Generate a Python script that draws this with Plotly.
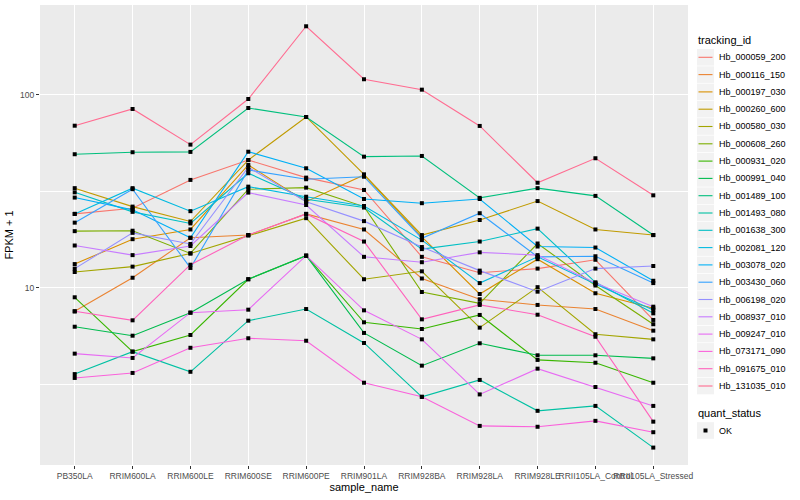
import plotly.graph_objects as go

samples = ["PB350LA", "RRIM600LA", "RRIM600LE", "RRIM600SE", "RRIM600PE", "RRIM901LA",
           "RRIM928BA", "RRIM928LA", "RRIM928LE", "RRII105LA_Control", "RRII105LA_Stressed"]

tracking_ids = ["Hb_000059_200", "Hb_000116_150", "Hb_000197_030", "Hb_000260_600", "Hb_000580_030",
                "Hb_000608_260", "Hb_000931_020", "Hb_000991_040", "Hb_001489_100", "Hb_001493_080",
                "Hb_001638_300", "Hb_002081_120", "Hb_003078_020", "Hb_003430_060", "Hb_006198_020",
                "Hb_008937_010", "Hb_009247_010", "Hb_073171_090", "Hb_091675_010", "Hb_131035_010"]

colors = ["#F8766D", "#EA8331", "#D89000", "#C09B00", "#A3A500", "#7CAE00", "#39B600", "#00BB4E",
          "#00BF7D", "#00C1A3", "#00BFC4", "#00BAE0", "#00B0F6", "#35A2FF", "#9590FF", "#C77CFF",
          "#E76BF3", "#FA62DB", "#FF62BC", "#FF6C91"]

# FPKM + 1 values, one list per gene, in sample order
Hb_000059_200 = [24.2, 25.9, 36.3, 46.0, 37.3, 32.2, 14.5, 12.0, 12.6, 14.0, 6.83]
Hb_000116_150 = [7.57, 11.3, 18.2, 18.8, 24.2, 20.1, 11.2, 8.74, 8.17, 7.78, 6.01]
Hb_000197_030 = [13.3, 17.9, 20.1, 43.4, 28.0, 38.5, 18.4, 9.31, 14.1, 9.39, 7.85]
Hb_000260_600 = [32.9, 26.4, 22.1, 46.0, 76.9, 38.8, 18.8, 22.5, 28.2, 20.1, 18.8]
Hb_000580_030 = [12.1, 12.9, 15.1, 18.7, 23.0, 11.1, 12.2, 6.23, 10.1, 5.76, 5.42]
Hb_000608_260 = [19.7, 19.8, 15.1, 32.5, 33.1, 26.4, 9.53, 8.33, 17.0, 10.3, 6.49]
Hb_000931_020 = [8.95, 4.68, 5.71, 11.1, 14.7, 6.64, 6.13, 7.25, 4.24, 4.10, 3.23]
Hb_000991_040 = [6.30, 5.66, 7.45, 11.1, 14.7, 5.85, 3.96, 5.17, 4.48, 4.48, 4.32]
Hb_001489_100 = [49.3, 50.5, 50.7, 85.6, 76.9, 47.9, 48.3, 29.3, 32.9, 30.0, 18.8]
Hb_001493_080 = [3.58, 4.68, 3.68, 6.77, 7.78, 5.19, 2.73, 3.34, 2.31, 2.45, 1.49]
Hb_001638_300 = [31.3, 24.8, 21.6, 39.3, 28.8, 26.1, 15.9, 17.4, 20.3, 10.7, 7.39]
Hb_002081_120 = [24.2, 32.9, 25.0, 33.5, 29.7, 26.6, 17.7, 10.6, 14.5, 10.5, 7.69]
Hb_003078_020 = [29.4, 25.4, 18.2, 50.8, 41.7, 28.9, 27.5, 28.9, 16.4, 16.2, 10.9]
Hb_003430_060 = [21.8, 32.5, 12.7, 40.9, 36.6, 37.7, 18.1, 24.4, 14.5, 14.6, 10.6]
Hb_006198_020 = [12.6, 19.3, 16.9, 42.2, 28.0, 22.2, 16.3, 12.3, 9.57, 12.6, 13.0]
Hb_008937_010 = [16.6, 14.8, 16.5, 31.2, 26.9, 14.5, 13.6, 15.3, 14.8, 10.6, 8.00]
Hb_009247_010 = [4.57, 4.34, 7.45, 7.72, 14.7, 7.66, 5.42, 2.81, 3.82, 3.07, 2.45]
Hb_073171_090 = [3.42, 3.63, 4.90, 5.49, 5.33, 3.23, 2.73, 1.93, 1.91, 2.05, 1.79]
Hb_091675_010 = [7.57, 6.80, 13.2, 18.8, 24.2, 17.4, 6.88, 8.17, 7.27, 5.59, 2.03]
Hb_131035_010 = [69.3, 84.6, 55.3, 95.3, 226.9, 120.6, 106.5, 69.1, 35.1, 47.0, 30.2]

series = [Hb_000059_200, Hb_000116_150, Hb_000197_030, Hb_000260_600, Hb_000580_030,
          Hb_000608_260, Hb_000931_020, Hb_000991_040, Hb_001489_100, Hb_001493_080,
          Hb_001638_300, Hb_002081_120, Hb_003078_020, Hb_003430_060, Hb_006198_020,
          Hb_008937_010, Hb_009247_010, Hb_073171_090, Hb_091675_010, Hb_131035_010]

quant_status = ["OK"]

FONT = "Liberation Sans"
W, H = 800, 500
ML, MR, MT, MB = 40, 112, 5, 35
PW, PH = W - ML - MR, H - MT - MB


def px(x):
    return (x - ML) / PW


def py(y):
    return (H - MB - y) / PH


fig = go.Figure()

for name, col, vals in zip(tracking_ids, colors, series):
    fig.add_trace(go.Scatter(
        x=samples, y=vals, mode="lines", name=name,
        line=dict(color=col, width=1.1), hoverinfo="skip"))

all_x = [s for vals in series for s in samples]
all_y = [v for vals in series for v in vals]
fig.add_trace(go.Scatter(
    x=all_x, y=all_y, mode="markers", name=quant_status[0],
    marker=dict(symbol="square", size=4, color="black"), hoverinfo="skip"))

# ---- manual ggplot-style legends ----
shapes = []
annotations = []
annotations.append(dict(text="tracking_id", x=px(696), y=py(40), xref="paper", yref="paper",
                        xanchor="left", yanchor="middle", showarrow=False,
                        font=dict(size=11, color="black", family=FONT)))
y0, step = 57.3, 17.3
for i, (name, col) in enumerate(zip(tracking_ids, colors)):
    yc = y0 + i * step
    shapes.append(dict(type="rect", xref="paper", yref="paper",
                       x0=px(697), x1=px(714), y0=py(yc - 8.3), y1=py(yc + 8.3),
                       fillcolor="#F2F2F2", line=dict(width=0), layer="above"))
    shapes.append(dict(type="line", xref="paper", yref="paper",
                       x0=px(698.5), x1=px(712.5), y0=py(yc), y1=py(yc),
                       line=dict(color=col, width=1.1), layer="above"))
    annotations.append(dict(text=name, x=px(717), y=py(yc), xref="paper", yref="paper",
                            xanchor="left", yanchor="middle", showarrow=False,
                            font=dict(size=9, color="black", family=FONT)))

annotations.append(dict(text="quant_status", x=px(696), y=py(413), xref="paper", yref="paper",
                        xanchor="left", yanchor="middle", showarrow=False,
                        font=dict(size=11, color="black", family=FONT)))
yq = 430.5
shapes.append(dict(type="rect", xref="paper", yref="paper",
                   x0=px(697), x1=px(714), y0=py(yq - 8.3), y1=py(yq + 8.3),
                   fillcolor="#F2F2F2", line=dict(width=0), layer="above"))
shapes.append(dict(type="rect", xref="paper", yref="paper",
                   x0=px(703.5), x1=px(707.5), y0=py(yq - 2), y1=py(yq + 2),
                   fillcolor="black", line=dict(width=0), layer="above"))
annotations.append(dict(text=quant_status[0], x=px(717), y=py(yq), xref="paper", yref="paper",
                        xanchor="left", yanchor="middle", showarrow=False,
                        font=dict(size=9, color="black", family=FONT)))

fig.update_layout(
    width=W, height=H,
    margin=dict(l=ML, r=MR, t=MT, b=MB, autoexpand=False),
    paper_bgcolor="white", plot_bgcolor="#EBEBEB",
    font=dict(family=FONT, size=9, color="#4D4D4D"),
    showlegend=False,
    shapes=shapes, annotations=annotations,
)

fig.update_xaxes(
    type="category", categoryorder="array", categoryarray=samples,
    range=[-0.6, len(samples) - 0.4],
    showgrid=True, gridcolor="white", gridwidth=1.3,
    zeroline=False, showline=False, automargin=False, tickangle=0,
    ticks="outside", ticklen=3, tickcolor="#333333", tickwidth=1,
    tickfont=dict(size=8.5, color="#4D4D4D", family=FONT),
    title=dict(text="sample_name", font=dict(size=11, color="black", family=FONT), standoff=3),
)

fig.update_yaxes(
    type="log", range=[0.083, 2.466],
    tickvals=[10, 100], ticktext=["10", "100"],
    showgrid=True, gridcolor="white", gridwidth=1.3,
    minor=dict(tickvals=[3.1623, 31.623], showgrid=True, gridcolor="white", gridwidth=0.6, ticks=""),
    zeroline=False, showline=False, automargin=False,
    ticks="outside", ticklen=3, tickcolor="#333333", tickwidth=1,
    tickfont=dict(size=8.5, color="#4D4D4D", family=FONT),
    title=dict(text="FPKM + 1", font=dict(size=11, color="black", family=FONT), standoff=4),
)

fig.write_html("out.html", config={"displayModeBar": False},
               post_script="document.body.style.margin='0px';document.body.style.overflow='hidden';")
